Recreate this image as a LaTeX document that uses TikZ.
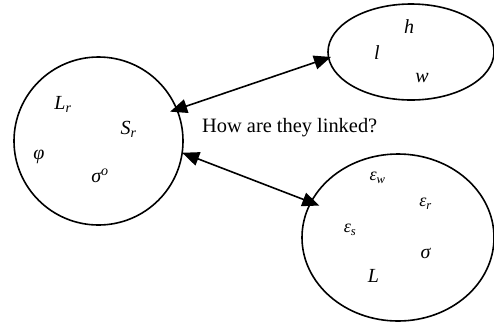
\documentclass[tikz,border=0pt]{standalone}
\usepackage{fontspec}
\setmainfont{Liberation Serif}
\usetikzlibrary{shapes.geometric,arrows.meta}
\newcommand{\lbsub}[2]{\textit{#1}\textsubscript{\textit{#2}}}
\newcommand{\lbsup}[2]{\textit{#1}\textsuperscript{\textit{#2}}}
\begin{document}
\begin{tikzpicture}[x=1pt,y=-1pt,
  blob/.style={ellipse,draw,line width=1.6pt,inner sep=0pt,outer sep=0pt},
  lab/.style={inner sep=0pt,font=\fontsize{20}{24}\selectfont\itshape},
  smlab/.style={inner sep=0pt,font=\fontsize{18}{21}\selectfont\itshape},
  txt/.style={inner sep=0pt,font=\fontsize{20.4}{24}\selectfont},
  arr/.style={line width=1.6pt,{Triangle[length=17pt,width=14pt]}-{Triangle[length=17pt,width=14pt]}}]
\useasboundingbox (0,0) rectangle (494,322);
% blobs
\node[blob,minimum width=169pt,minimum height=168pt] (Lc) at (98.5,141) {};
\node[blob,minimum width=166pt,minimum height=96pt] (Tc) at (411,52) {};
\node[blob,minimum width=192pt,minimum height=167pt] (Bc) at (398,237.5) {};
% connectors
\draw[arr,shorten <=-7pt,shorten >=-2.5pt] (Lc.22.5) -- (Tc.184);
\draw[arr,shorten >=-9pt] (Lc.-8) -- (Bc.158.7);
% question
\node[txt,anchor=west] (q) at (202,128) {How are they linked?};
% left circle labels
\node[lab] (lr) at (63,104.5) {\lbsub{L}{r}};
\node[lab] (sr) at (128.5,129.5) {\lbsub{S}{r}};
\node[lab] (phi) at (39,157) {φ};
\node[lab] (sig0) at (100,176) {\lbsup{σ}{o}};
% top ellipse labels
\node[lab] (h) at (409,27) {h};
\node[lab] (l) at (377,53) {l};
\node[lab] (w) at (422,78) {w};
% bottom ellipse labels
\node[smlab] (ew) at (377.5,178) {\lbsub{ε}{w}};
\node[smlab] (er) at (425.5,204) {\lbsub{ε}{r}};
\node[smlab] (es) at (350,230) {\lbsub{ε}{s}};
\node[lab] (sg) at (425.5,253) {σ};
\node[lab] (L) at (373.5,276) {L};
\end{tikzpicture}
\end{document}
